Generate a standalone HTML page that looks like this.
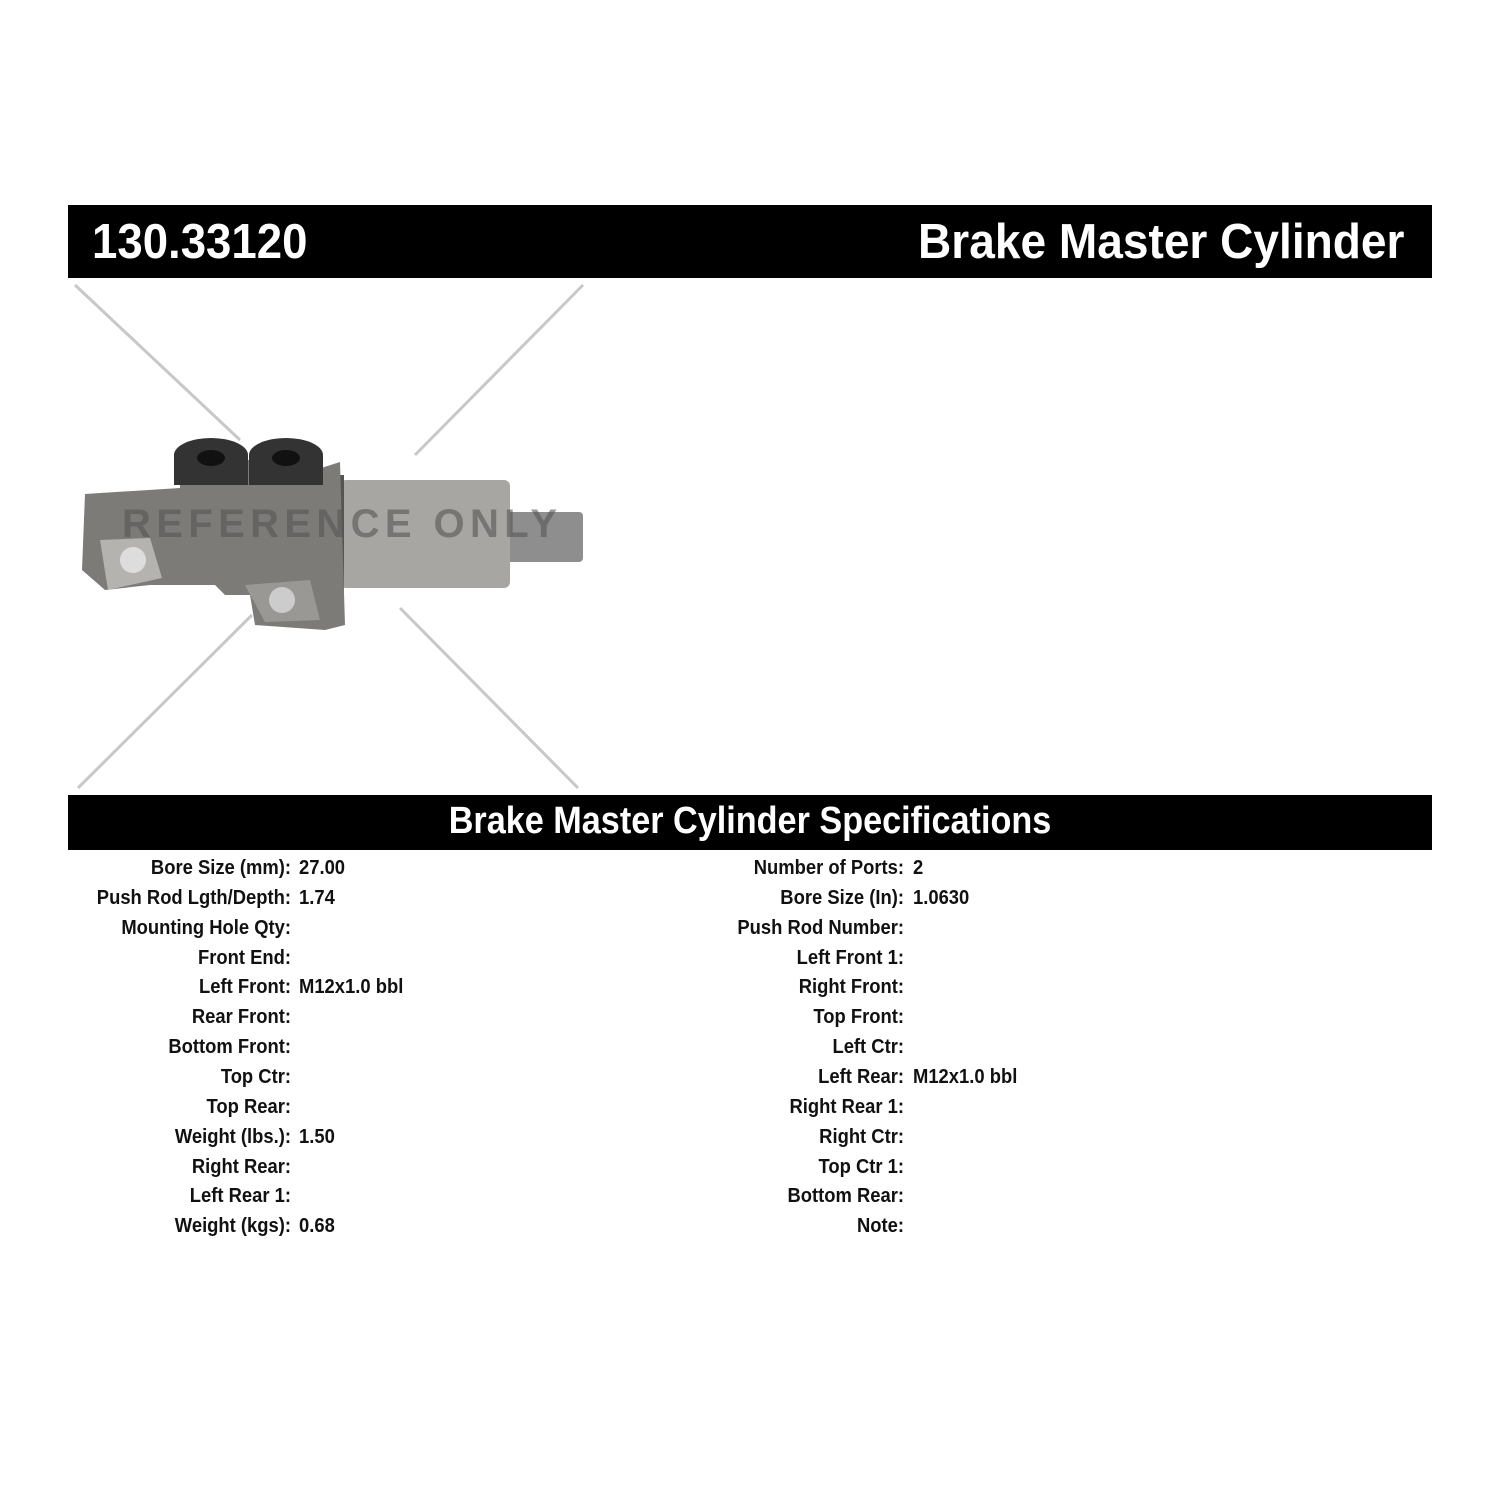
<!DOCTYPE html>
<html><head><style>
body{margin:0;width:1500px;height:1500px;background:#fff;position:relative;overflow:hidden;font-family:"Liberation Sans Narrow","Liberation Sans",sans-serif;font-weight:bold;}
.bar{position:absolute;left:68px;width:1364px;background:#000;color:#fff;}
.t{position:absolute;white-space:nowrap;}
.row{position:absolute;font-size:20px;color:#111;white-space:nowrap;}
</style></head><body>
<div class="bar" style="top:205px;height:73px;">
<div class="t" style="left:24px;top:9px;font-size:49px;transform:scaleX(0.93);transform-origin:left;">130.33120</div>
<div class="t" style="right:28px;top:9px;font-size:49px;transform:scaleX(0.94);transform-origin:right;">Brake Master Cylinder</div>
</div>
<svg style="position:absolute;left:0;top:0" width="700" height="800">
<g stroke="#c8c8c8" stroke-width="3">
<line x1="75" y1="285" x2="240" y2="440"/><line x1="583" y1="285" x2="415" y2="455"/>
<line x1="78" y1="788" x2="252" y2="615"/><line x1="578" y1="788" x2="400" y2="608"/>
</g>
<rect x="505" y="512" width="78" height="50" rx="4" fill="#8e8e8e"/>
<rect x="340" y="480" width="170" height="108" rx="6" fill="#a8a6a2"/>
<rect x="330" y="475" width="14" height="118" fill="#555"/>
<path d="M85 494 L180 488 L180 460 L315 460 L315 470 L340 462 L345 625 L325 630 L255 625 L250 595 L225 595 L215 585 L150 585 L105 590 L82 570 Z" fill="#7d7b78"/>
<path d="M100 540 L150 538 L162 578 L108 590 Z" fill="#b5b3b0"/>
<circle cx="133" cy="560" r="13" fill="#ddd"/>
<path d="M245 585 L310 580 L320 620 L265 622 Z" fill="#9a9894"/>
<circle cx="282" cy="600" r="13" fill="#ccc"/>
<ellipse cx="211" cy="455" rx="37" ry="17" fill="#333"/><rect x="174" y="455" width="74" height="30" fill="#333"/>
<ellipse cx="286" cy="455" rx="37" ry="17" fill="#333"/><rect x="249" y="455" width="74" height="30" fill="#333"/>
<ellipse cx="211" cy="458" rx="14" ry="8" fill="#111"/><ellipse cx="286" cy="458" rx="14" ry="8" fill="#111"/>
<text x="122" y="537" font-family="Liberation Sans" font-weight="bold" font-size="40" fill="#555" fill-opacity="0.6" textLength="435">REFERENCE ONLY</text>
</svg>
<div class="bar" style="top:795px;height:55px;">
<div class="t" style="left:0;width:1364px;text-align:center;top:5px;font-size:38px;transform:scaleX(0.9);">Brake Master Cylinder Specifications</div>
</div>
<div id="rows"></div>
<script>
var L=[["Bore Size (mm):","27.00"],["Push Rod Lgth/Depth:","1.74"],["Mounting Hole Qty:",""],["Front End:",""],["Left Front:","M12x1.0 bbl"],["Rear Front:",""],["Bottom Front:",""],["Top Ctr:",""],["Top Rear:",""],["Weight (lbs.):","1.50"],["Right Rear:",""],["Left Rear 1:",""],["Weight (kgs):","0.68"]];
var R=[["Number of Ports:","2"],["Bore Size (In):","1.0630"],["Push Rod Number:",""],["Left Front 1:",""],["Right Front:",""],["Top Front:",""],["Left Ctr:",""],["Left Rear:","M12x1.0 bbl"],["Right Rear 1:",""],["Right Ctr:",""],["Top Ctr 1:",""],["Bottom Rear:",""],["Note:",""]];
var h="";
function add(a,le,ve){a.forEach(function(r,i){var y=857+i*29.85;
h+='<div class="row" style="top:'+y+'px;left:0;width:'+le+'px;text-align:right;transform:scaleX(0.92);transform-origin:'+le+'px 0">'+r[0]+'</div>';
h+='<div class="row" style="top:'+y+'px;left:'+ve+'px;transform:scaleX(0.92);transform-origin:left">'+r[1]+'</div>';});}
add(L,291,299);add(R,904,913);
document.getElementById("rows").innerHTML=h;
</script>
</body></html>
